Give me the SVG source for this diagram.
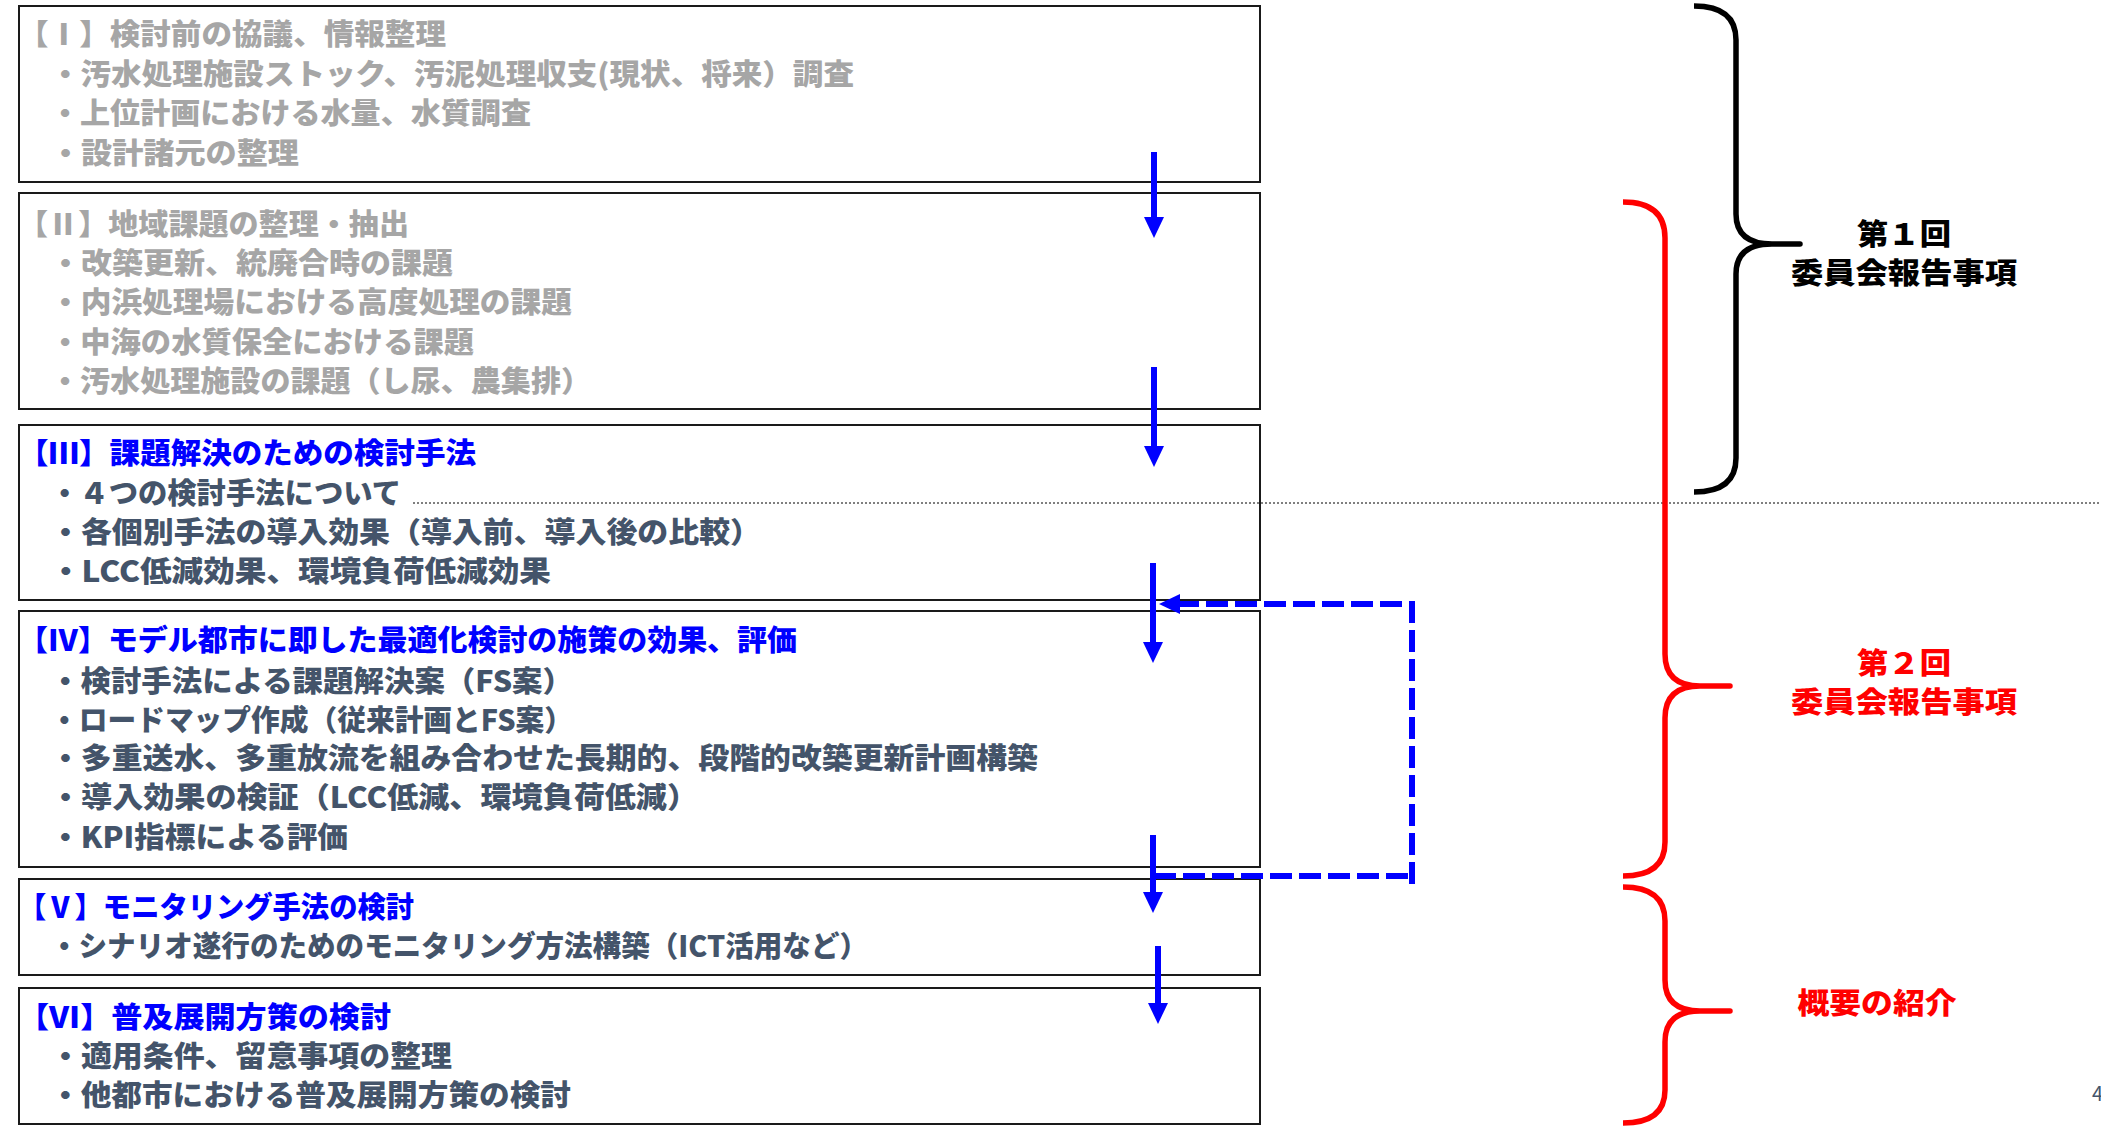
<svg xmlns="http://www.w3.org/2000/svg" width="2101" height="1128" viewBox="0 0 2101 1128">
<style>
.box{fill:#ffffff;stroke:#1a1a1a;stroke-width:2}
text{font-family:"Noto Sans CJK JP","Noto Sans",sans-serif;font-weight:900;font-size:29px}
.g{fill:#a6a6a6}
.b{fill:#0000ff}
.s{fill:#44546a}
.lbl{font-size:29px;text-anchor:middle}
.arr{stroke:#0000ff;stroke-width:6;fill:none}
.dash{stroke:#0000ff;stroke-width:6;fill:none;stroke-dasharray:22 7}
.brace{fill:none;stroke-width:5.5;stroke-linejoin:round;stroke-linecap:butt}
</style>
<defs>
<marker id="ah" markerWidth="22" markerHeight="22" refX="1" refY="11" orient="auto" markerUnits="userSpaceOnUse" viewBox="0 0 22 22">
<path d="M0,1 L21,11 L0,21 z" fill="#0000ff"/>
</marker>
</defs>
<rect width="2101" height="1128" fill="#ffffff"/>

<g id="box1">
<rect class="box" x="19" y="6" width="1241" height="176"/>
<text class="g" x="18" y="45" textLength="428" lengthAdjust="spacingAndGlyphs">【Ⅰ】検討前の協議、情報整理</text>
<text class="g" x="50" y="85" textLength="804" lengthAdjust="spacingAndGlyphs">・汚水処理施設ストック、汚泥処理収支(現状、将来）調査</text>
<text class="g" x="50" y="124" textLength="481" lengthAdjust="spacingAndGlyphs">・上位計画における水量、水質調査</text>
<text class="g" x="50" y="164" textLength="249" lengthAdjust="spacingAndGlyphs">・設計諸元の整理</text>
</g>

<g id="box2">
<rect class="box" x="19" y="193" width="1241" height="216"/>
<text class="g" x="18" y="235" textLength="391" lengthAdjust="spacingAndGlyphs">【Ⅱ】地域課題の整理・抽出</text>
<text class="g" x="50" y="274" textLength="403" lengthAdjust="spacingAndGlyphs">・改築更新、統廃合時の課題</text>
<text class="g" x="50" y="313" textLength="522" lengthAdjust="spacingAndGlyphs">・内浜処理場における高度処理の課題</text>
<text class="g" x="50" y="353" textLength="424" lengthAdjust="spacingAndGlyphs">・中海の水質保全における課題</text>
<text class="g" x="50" y="392" textLength="541" lengthAdjust="spacingAndGlyphs">・汚水処理施設の課題（し尿、農集排）</text>
</g>

<g id="box3">
<rect class="box" x="19" y="425" width="1241" height="175"/>
<text class="b" x="18" y="464" textLength="458" lengthAdjust="spacingAndGlyphs">【Ⅲ】課題解決のための検討手法</text>
<text class="s" x="50" y="504" textLength="351" lengthAdjust="spacingAndGlyphs">・４つの検討手法について</text>
<text class="s" x="50" y="543" textLength="711" lengthAdjust="spacingAndGlyphs">・各個別手法の導入効果（導入前、導入後の比較）</text>
<text class="s" x="50" y="582" textLength="501" lengthAdjust="spacingAndGlyphs">・LCC低減効果、環境負荷低減効果</text>
</g>

<g id="box4">
<rect class="box" x="19" y="611" width="1241" height="256"/>
<text class="b" x="18" y="651" textLength="779" lengthAdjust="spacingAndGlyphs">【Ⅳ】モデル都市に即した最適化検討の施策の効果、評価</text>
<text class="s" x="50" y="692" textLength="523" lengthAdjust="spacingAndGlyphs">・検討手法による課題解決案（FS案）</text>
<text class="s" x="50" y="731" textLength="523" lengthAdjust="spacingAndGlyphs">・ロードマップ作成（従来計画とFS案）</text>
<text class="s" x="50" y="769" textLength="988" lengthAdjust="spacingAndGlyphs">・多重送水、多重放流を組み合わせた長期的、段階的改築更新計画構築</text>
<text class="s" x="50" y="808" textLength="648" lengthAdjust="spacingAndGlyphs">・導入効果の検証（LCC低減、環境負荷低減）</text>
<text class="s" x="50" y="848" textLength="298" lengthAdjust="spacingAndGlyphs">・KPI指標による評価</text>
</g>

<g id="box5">
<rect class="box" x="19" y="879" width="1241" height="96"/>
<text class="b" x="18" y="918" textLength="396" lengthAdjust="spacingAndGlyphs">【Ⅴ】モニタリング手法の検討</text>
<text class="s" x="50" y="957" textLength="818" lengthAdjust="spacingAndGlyphs">・シナリオ遂行のためのモニタリング方法構築（ICT活用など）</text>
</g>

<g id="box6">
<rect class="box" x="19" y="988" width="1241" height="136"/>
<text class="b" x="18" y="1028" textLength="373" lengthAdjust="spacingAndGlyphs">【Ⅵ】普及展開方策の検討</text>
<text class="s" x="50" y="1067" textLength="402" lengthAdjust="spacingAndGlyphs">・適用条件、留意事項の整理</text>
<text class="s" x="50" y="1106" textLength="521" lengthAdjust="spacingAndGlyphs">・他都市における普及展開方策の検討</text>
</g>

<line id="divider" x1="413" y1="503" x2="2101" y2="503" stroke="#000000" stroke-width="1" stroke-dasharray="2 2"/>

<g id="connectors">
<path class="arr" d="M1154,152 V218" marker-end="url(#ah)"/>
<path class="arr" d="M1154,367 V447" marker-end="url(#ah)"/>
<path class="arr" d="M1153,563 V643" marker-end="url(#ah)"/>
<path class="arr" d="M1153,835 V893" marker-end="url(#ah)"/>
<path class="arr" d="M1158,946 V1004" marker-end="url(#ah)"/>
<path class="dash" d="M1154,876 H1415"/>
<path class="dash" d="M1412,884 V604 H1179" marker-end="url(#ah)"/>
</g>

<g id="brace-1">
<path class="brace" stroke="#000000" d="M1694,6 Q1736,6 1736,40 V214 Q1736,244 1772,244 H1800 H1772 Q1736,244 1736,274 V458 Q1736,492 1694,492"/>
<text class="lbl" x="1904" y="245" fill="#000000" textLength="94" lengthAdjust="spacingAndGlyphs">第１回</text>
<text class="lbl" x="1904" y="284" fill="#000000" textLength="226" lengthAdjust="spacingAndGlyphs">委員会報告事項</text>
</g>

<g id="brace-2">
<path class="brace" stroke="#ff0000" d="M1623,202 Q1665,202 1665,238 V654 Q1665,686 1700,686 H1730 H1700 Q1665,686 1665,718 V842 Q1665,876 1623,876"/>
<text class="lbl" x="1904" y="674" fill="#ff0000" textLength="94" lengthAdjust="spacingAndGlyphs">第２回</text>
<text class="lbl" x="1904" y="713" fill="#ff0000" textLength="226" lengthAdjust="spacingAndGlyphs">委員会報告事項</text>
</g>

<g id="brace-3">
<path class="brace" stroke="#ff0000" d="M1623,887 Q1665,887 1665,921 V980 Q1665,1011 1700,1011 H1730 H1700 Q1665,1011 1665,1042 V1090 Q1665,1123 1623,1123"/>
<text class="lbl" x="1877" y="1014" fill="#ff0000" textLength="159" lengthAdjust="spacingAndGlyphs">概要の紹介</text>
</g>

<text id="page" x="2092" y="1101" fill="#44546a" style="font-size:20px;font-weight:normal">4</text>
</svg>
